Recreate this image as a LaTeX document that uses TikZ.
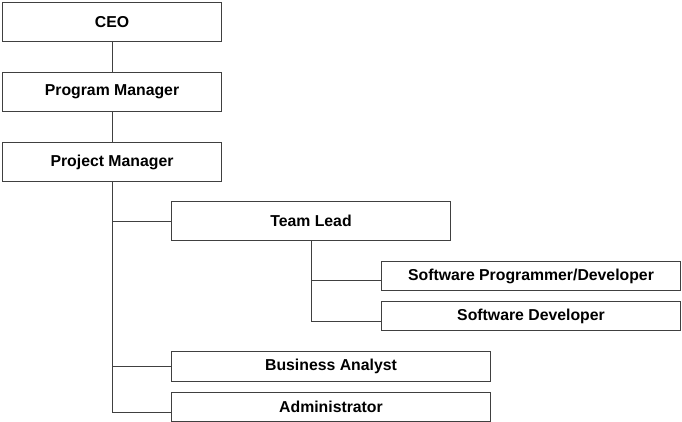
\documentclass[tikz,border=0pt]{standalone}
\usepackage{fontspec}
\setmainfont{Liberation Sans}
\usetikzlibrary{positioning}

\begin{document}
\begin{tikzpicture}[
  x=1pt, y=-1pt,
  node distance=30pt,
  box/.style={rectangle, draw=black!75, line width=1pt, inner sep=0pt, minimum height=39pt, font=\bfseries\fontsize{15.8}{18}\selectfont},
  link/.style={draw=black!75, line width=1pt}
]
\useasboundingbox (0,0) rectangle (682,422);
% Top chain
\node[box, minimum width=219pt, anchor=north west] (ceo) at (2,2) {CEO};
\node[box, minimum width=219pt, below=of ceo] (prm) {Program Manager};
\node[box, minimum width=219pt, below=of prm] (pjm) {Project Manager};
% Reports
\node[box, minimum width=279pt, anchor=north west] (tl) at (171,201) {Team Lead};
\node[box, minimum width=299pt, minimum height=29pt, anchor=north west] (spd) at (381,261) {Software Programmer/Developer};
\node[box, minimum width=299pt, minimum height=29pt, below=10pt of spd] (sd) {Software Developer};
\node[box, minimum width=319pt, minimum height=30pt, anchor=north west] (ba) at (171,351) {Business Analyst};
\node[box, minimum width=319pt, minimum height=29pt, below=10pt of ba] (adm) {Administrator};
% Connectors
\draw[link] (ceo) -- (prm);
\draw[link] (prm) -- (pjm);
\draw[link] (pjm.south) |- ([yshift=-5pt]adm.west);
\draw[link] (tl.west) -| (pjm.south);
\draw[link] (ba.west) -| (pjm.south);
\draw[link] (tl.south) |- ([yshift=-5pt]sd.west);
\draw[link] ([yshift=-4pt]spd.west) -| (tl.south);
\end{tikzpicture}
\end{document}
